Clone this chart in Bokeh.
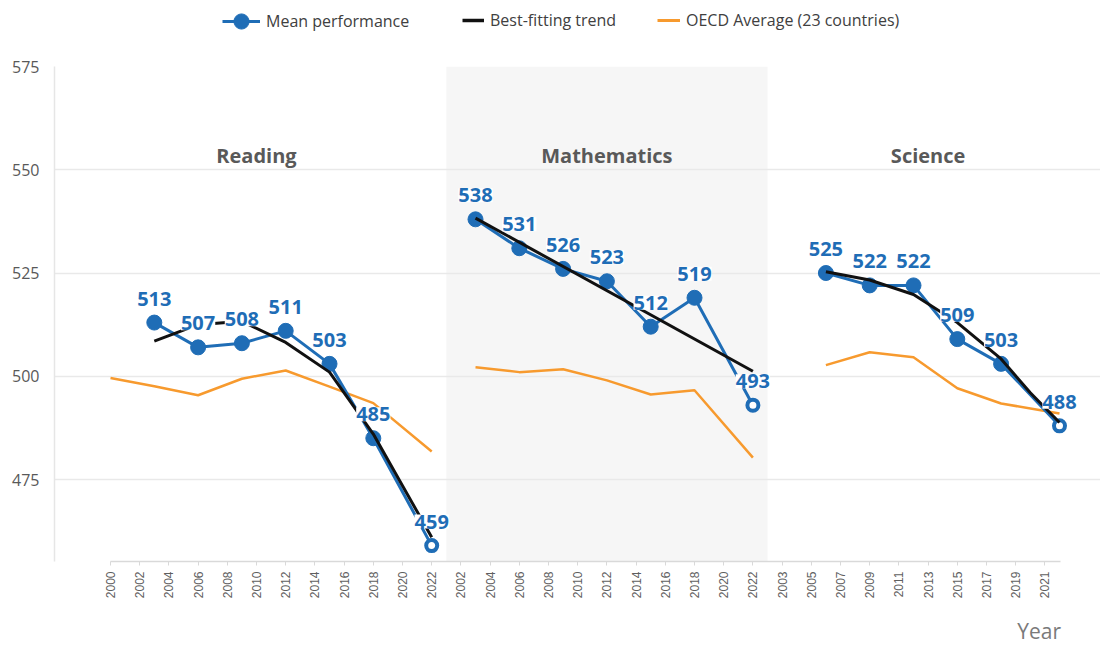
import math
from bokeh.plotting import figure
from bokeh.layouts import column
from bokeh.models import (Range1d, FixedTicker, BoxAnnotation, Legend, LegendItem, LabelSet,
                          ColumnDataSource)
from bokeh.core.properties import value
from bokeh.embed import file_html
from bokeh.resources import INLINE

# ---------------- data ----------------
reading_ticks = ["2000", "2002", "2004", "2006", "2008", "2010", "2012", "2014", "2016", "2018", "2020", "2022"]
math_ticks = ["2002", "2004", "2006", "2008", "2010", "2012", "2014", "2016", "2018", "2020", "2022"]
science_ticks = ["2003", "2005", "2007", "2009", "2011", "2013", "2015", "2017", "2019", "2021"]

panel_titles = ["Reading", "Mathematics", "Science"]

reading_years = [2003, 2006, 2009, 2012, 2015, 2018, 2022]
reading_mean = [513, 507, 508, 511, 503, 485, 459]
reading_trend_years = [2003, 2006, 2009, 2012, 2015, 2018, 2020, 2022]
reading_trend = [508.5, 512.5, 513.3, 508.2, 501.0, 486.0, 473.5, 461.0]
reading_oecd_years = [2000, 2003, 2006, 2009, 2012, 2015, 2018, 2022]
reading_oecd = [499.6, 497.6, 495.4, 499.4, 501.4, 497.5, 493.5, 481.8]

math_years = [2003, 2006, 2009, 2012, 2015, 2018, 2022]
math_mean = [538, 531, 526, 523, 512, 519, 493]
math_trend_years = [2003, 2022]
math_trend = [538.3, 501.2]
math_oecd_years = [2003, 2006, 2009, 2012, 2015, 2018, 2022]
math_oecd = [502.2, 501.0, 501.7, 499.0, 495.6, 496.6, 480.3]

science_years = [2006, 2009, 2012, 2015, 2018, 2022]
science_mean = [525, 522, 522, 509, 503, 488]
science_trend_years = [2006, 2009, 2012, 2015, 2018, 2020, 2022]
science_trend = [525.3, 523.3, 519.8, 513.0, 504.2, 496.0, 488.8]
science_oecd_years = [2006, 2009, 2012, 2015, 2018, 2022]
science_oecd = [502.7, 505.8, 504.6, 497.1, 493.4, 491.0]

y_ticks = [475, 500, 525, 550, 575]

legend_labels = ["Mean performance", "Best-fitting trend", "OECD Average (23 countries)"]
x_axis_title = "Year"

# ---------------- style ----------------
BLUE = "#1f6db6"
ORANGE = "#f79a2e"
BLACK = "#111111"
FONT = "Open Sans"
X_END = 32.55

all_ticks = reading_ticks + math_ticks + science_ticks
offsets = [0, len(reading_ticks), len(reading_ticks) + len(math_ticks)]
starts = [int(reading_ticks[0]), int(math_ticks[0]), int(science_ticks[0])]


def pos(years, panel):
    return [offsets[panel] + (y - starts[panel]) / 2 for y in years]


# ---------------- main chart ----------------
p = figure(width=1100, height=566, output_backend="svg", toolbar_location=None,
           x_range=Range1d(-1.918, 33.904), y_range=Range1d(455.15, 575),
           min_border_left=54, min_border_right=0, min_border_top=26, min_border_bottom=45)
p.outline_line_color = None
p.background_fill_color = "white"
p.border_fill_color = "white"

p.xgrid.grid_line_color = None
p.ygrid.grid_line_color = "#e9e9e9"
p.ygrid.grid_line_width = 1.5

p.yaxis.ticker = FixedTicker(ticks=y_ticks)
p.yaxis.axis_line_color = "#e6e6e6"
p.yaxis.axis_line_width = 1.5
p.yaxis.major_tick_line_color = None
p.yaxis.minor_tick_line_color = None
p.yaxis.major_label_text_font = FONT
p.yaxis.major_label_text_font_size = "16px"
p.yaxis.major_label_text_color = "#595959"
p.yaxis.major_label_standoff = 9

p.xaxis.ticker = FixedTicker(ticks=list(range(len(all_ticks))))
p.xaxis.major_label_overrides = {i: lab for i, lab in enumerate(all_ticks)}
p.xaxis.major_label_orientation = math.pi / 2
p.xaxis.bounds = (0, X_END)
p.xaxis.axis_line_color = "#d9d9d9"
p.xaxis.axis_line_width = 1.5
p.xaxis.major_tick_line_color = "#d9d9d9"
p.xaxis.major_tick_out = 4
p.xaxis.major_tick_in = 0
p.xaxis.minor_tick_line_color = None
p.xaxis.major_label_text_font = "Liberation Sans"
p.xaxis.major_label_text_font_size = "12px"
p.xaxis.major_label_text_color = "#5f5f5f"
p.xaxis.major_label_standoff = 6

# shaded mathematics panel
p.add_layout(BoxAnnotation(left=offsets[1] - 0.5, right=offsets[2] - 0.5,
                           fill_color="#f6f6f6", fill_alpha=1, line_color=None, level="image"))

panels = [
    (reading_years, reading_mean, reading_trend_years, reading_trend, reading_oecd_years, reading_oecd),
    (math_years, math_mean, math_trend_years, math_trend, math_oecd_years, math_oecd),
    (science_years, science_mean, science_trend_years, science_trend, science_oecd_years, science_oecd),
]

for i, (yrs, mean, tyrs, trend, oyrs, oecd) in enumerate(panels):
    p.line(pos(oyrs, i), oecd, line_color=ORANGE, line_width=2.5)
    xs = pos(yrs, i)
    p.line(xs, mean, line_color=BLUE, line_width=3)
    p.scatter(xs[:-1], mean[:-1], size=15, fill_color=BLUE, line_color=BLUE)
    p.scatter([xs[-1]], [mean[-1]], size=11, fill_color="white", line_color=BLUE, line_width=4)
    p.line(pos(tyrs, i), trend, line_color=BLACK, line_width=3)
    src = ColumnDataSource(dict(x=xs, y=mean, t=[str(v) for v in mean]))
    p.add_layout(LabelSet(x="x", y="y", text="t", source=src, y_offset=24,
                          text_align="center", text_baseline="middle",
                          text_font=value(FONT), text_font_style="bold", text_font_size="20px",
                          text_color=BLUE, background_fill_color="white",
                          background_fill_alpha=1))

# panel titles
title_x = [(offsets[0] + offsets[1]) / 2 - 1, (offsets[1] + offsets[2]) / 2 - 0.5, offsets[2] + 5]
p.text(title_x, [553.4] * 3, text=panel_titles, text_align="center", text_baseline="middle",
       text_font=value(FONT), text_font_style="bold", text_font_size="20px", text_color="#595959")

# ---------------- legend strip (frame aligned with the chart's frame) ----------------
lf = figure(width=1100, height=40, output_backend="svg", toolbar_location=None,
            x_axis_type=None, y_axis_type=None, min_border=0,
            x_range=Range1d(0, 1), y_range=Range1d(0, 1))
lf.outline_line_color = None
# swatch renderers reuse real data, which falls outside this strip's ranges (not visible)
lb = lf.line(pos(reading_years, 0), reading_mean, line_color=BLUE, line_width=3)
ls = lf.scatter(pos(reading_years, 0), reading_mean, size=15, fill_color=BLUE, line_color=BLUE)
lt = lf.line(pos(reading_trend_years, 0), reading_trend, line_color=BLACK, line_width=3.5)
lo = lf.line(pos(reading_oecd_years, 0), reading_oecd, line_color=ORANGE, line_width=3)
for lab, rends, x0, y0, gw, gh in [(legend_labels[0], [lb, ls], 168, 0, 38, 38),
                                   (legend_labels[1], [lt], 408, 9, 22, 20),
                                   (legend_labels[2], [lo], 603, 9, 23, 20)]:
    lf.add_layout(Legend(items=[LegendItem(label=lab, renderers=rends)], location=(x0, y0),
                         orientation="horizontal", border_line_color=None,
                         background_fill_alpha=0, padding=0, margin=0, glyph_width=gw,
                         glyph_height=gh, label_height=20, label_standoff=6,
                         label_text_font=FONT, label_text_font_size="16px",
                         label_text_color="#404040"))

# ---------------- x-axis title strip (shares the chart's x range) ----------------
yf = figure(width=1100, height=40, output_backend="svg", toolbar_location=None,
            x_axis_type=None, y_axis_type=None, min_border=0,
            x_range=p.x_range, y_range=Range1d(0, 1))
yf.outline_line_color = None
yf.text([X_END], [0.4], text=[x_axis_title], text_align="right", text_baseline="middle",
        text_font=value(FONT), text_font_size="21px", text_color="#7a7a7a")

open("out.html", "w").write(file_html(column(lf, p, yf, spacing=0), INLINE))
